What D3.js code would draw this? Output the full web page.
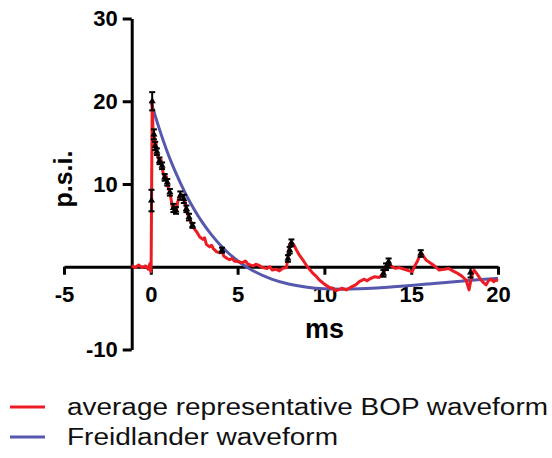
<!DOCTYPE html>
<html>
<head>
<meta charset="utf-8">
<script src="https://cdn.jsdelivr.net/npm/d3@7"></script>
<style>
  html, body { margin: 0; padding: 0; background: #fff; }
  svg { display: block; font-family: Arial, "Liberation Sans", sans-serif; }
</style>
</head>
<body>
<svg id="chart" width="552" height="458"></svg>
<script>
// ---------- data ----------
const xTicks = [-5, 0, 5, 10, 15, 20];
const yTicks = [-10, 10, 20, 30];
const xLabel = "ms";
const yLabel = "p.s.i.";
const seriesNames = ["average representative BOP waveform", "Freidlander waveform"];

// average representative BOP waveform (time ms, pressure psi)
const bopTime = [-1.1, -0.9, -0.7, -0.5, -0.3, -0.15, -0.05, 0.0, 0.02, 0.05, 0.08, 0.12, 0.16, 0.2, 0.25, 0.3, 0.35, 0.45, 0.52, 0.6, 0.7, 0.8, 0.9, 1.0, 1.09, 1.18, 1.26, 1.35, 1.45, 1.55, 1.65, 1.78, 1.9, 1.95, 2.05, 2.15, 2.24, 2.35, 2.5, 2.65, 2.82, 3.0, 3.1, 3.2, 3.39, 3.5, 3.6, 3.8, 3.97, 4.1, 4.2, 4.4, 4.54, 4.7, 4.8, 5.05, 5.29, 5.45, 5.6, 5.9, 6.05, 6.2, 6.44, 6.7, 6.85, 7.0, 7.2, 7.41, 7.6, 7.82, 7.9, 7.95, 8.0, 8.1, 8.25, 8.4, 8.56, 8.8, 9.02, 9.3, 9.5, 9.71, 10.0, 10.29, 10.5, 10.65, 10.8, 11.0, 11.26, 11.5, 11.8, 12.01, 12.3, 12.45, 12.59, 12.9, 13.16, 13.3, 13.45, 13.62, 13.75, 13.91, 14.1, 14.31, 14.6, 14.89, 15.06, 15.2, 15.34, 15.57, 15.7, 15.86, 16.0, 16.21, 16.4, 16.61, 16.9, 17.18, 17.4, 17.59, 17.9, 18.16, 18.33, 18.42, 18.51, 18.62, 18.8, 19.02, 19.15, 19.31, 19.45, 19.6, 19.75, 19.89, 20.0];
const bopValue = [0.1, -0.1, 0.2, -0.1, 0.1, -0.3, 0.4, -0.6, 0.2, 10, 20, 17, 15.5, 16, 14.5, 15, 13.8, 13, 12.6, 12.9, 11.4, 10.6, 10.9, 9.6, 9.0, 8.0, 7.0, 7.3, 6.6, 7.8, 8.6, 8.7, 8.2, 8.1, 6.8, 6.2, 5.7, 5.2, 4.6, 4.2, 3.6, 3.3, 3.5, 2.7, 2.4, 2.6, 2.2, 1.8, 1.7, 1.9, 1.3, 1.0, 0.85, 1.0, 0.7, 0.6, 0.5, 0.7, 0.3, 0.1, 0.3, 0.2, -0.1, -0.2, 0.0, -0.4, -0.3, -0.5, -0.2, -0.1, 1.2, 2.0, 2.7, 3.0, 2.6, 2.0, 1.4, 0.7, 0.0, -0.7, -1.1, -1.6, -2.1, -2.5, -2.6, -2.9, -2.8, -2.6, -2.8, -2.5, -2.2, -1.8, -1.5, -1.7, -1.5, -1.2, -1.3, -1.0, -0.6, 0.5, 0.3, 0.0, -0.2, -0.1, -0.3, -0.5, -0.6, 0.1, 0.6, 1.7, 1.3, 0.8, 0.6, 0.3, 0.0, -0.4, -0.3, -0.2, -0.5, -0.7, -1.1, -1.6, -2.8, -1.8, -1.0, -0.4, -0.9, -1.6, -1.9, -2.2, -1.7, -1.5, -1.8, -1.6, -1.7];

// Freidlander waveform (time ms, pressure psi)
const fwTime = [0, 0.5, 1, 1.5, 2, 2.5, 3, 3.5, 4, 4.5, 5, 5.5, 6, 7, 8, 9, 10, 11, 12, 13, 14, 15, 16, 17, 18, 19, 20];
const fwValue = [20, 16.6, 13.6, 11.07, 8.84, 6.93, 5.27, 3.85, 2.63, 1.6, 0.73, 0, -0.61, -1.53, -2.12, -2.48, -2.66, -2.71, -2.67, -2.57, -2.43, -2.26, -2.08, -1.9, -1.72, -1.55, -1.39];

// points carrying error bars on the BOP waveform (time, mean, error)
const errTime = [0.08, 0.04, 0.18, 0.25, 0.35, 0.5, 0.65, 0.8, 0.95, 1.1, 1.3, 1.45, 1.7, 1.9, 2.05, 2.2, 2.4, 4.1, 7.9, 8.0, 8.1, 13.4, 13.55, 13.7, 15.55, 18.42];
const errMean = [20.0, 8.0, 16.0, 14.6, 13.9, 12.8, 12.2, 10.8, 10.2, 9.0, 7.1, 6.8, 8.6, 8.2, 7.0, 6.0, 5.0, 2.0, 1.0, 2.0, 2.9, -0.8, 0.0, 0.6, 1.6, -0.7];
const errSize = [1.1, 1.3, 0.6, 0.5, 0.4, 0.4, 0.4, 0.4, 0.4, 0.4, 0.5, 0.4, 0.5, 0.5, 0.4, 0.4, 0.3, 0.3, 0.4, 0.4, 0.4, 0.4, 0.4, 0.4, 0.4, 0.6];

const yAxisAt = -1.1; // x value where the y axis is drawn

// ---------- drawing ----------
const red = "#ec1c24";
const blue = "#5558ad";
const svg = d3.select("#chart");

const x = d3.scaleLinear().domain([-5, 20]).range([64, 498]);
const y = d3.scaleLinear().domain([-10, 30]).range([349.5, 18.5]);
const fmt = d => String(d); // plain hyphen-minus like the original

// x axis at y = 0
const gx = svg.append("g")
  .attr("transform", `translate(0,${y(0)})`)
  .call(d3.axisBottom(x).tickValues(xTicks).tickSize(8).tickSizeOuter(0).tickPadding(12).tickFormat(fmt));
// y axis
const gy = svg.append("g")
  .attr("transform", `translate(${x(yAxisAt)},0)`)
  .call(d3.axisLeft(y).tickValues(yTicks).tickSize(9).tickSizeOuter(0).tickPadding(5).tickFormat(fmt));

[gx, gy].forEach(g => {
  g.select(".domain").attr("stroke", "#000").attr("stroke-width", 3);
  g.selectAll(".tick line").attr("stroke", "#000").attr("stroke-width", 3);
  g.selectAll(".tick text")
    .attr("fill", "#000")
    .style("font-family", "Arial, 'Liberation Sans', sans-serif")
    .style("font-weight", "bold")
    .style("font-size", "22px");
});
gx.selectAll(".tick text").attr("text-anchor", "middle");

// axis titles
svg.append("text")
  .attr("x", x(10)).attr("y", 338)
  .attr("text-anchor", "middle")
  .style("font-weight", "bold").style("font-size", "27px")
  .text(xLabel);
svg.append("text")
  .attr("transform", `translate(72,${y(10.6)}) rotate(-90)`)
  .attr("text-anchor", "middle")
  .style("font-weight", "bold").style("font-size", "25px")
  .text(yLabel);

// lines
const fwData = fwTime.map((t, i) => [t, fwValue[i]]);
const bopData = bopTime.map((t, i) => [t, bopValue[i]]);

svg.append("path").datum(fwData)
  .attr("d", d3.line().x(d => x(d[0])).y(d => y(d[1])).curve(d3.curveMonotoneX))
  .attr("fill", "none").attr("stroke", blue).attr("stroke-width", 3);

svg.append("path").datum(bopData)
  .attr("d", d3.line().x(d => x(d[0])).y(d => y(d[1])))
  .attr("fill", "none").attr("stroke", red).attr("stroke-width", 3)
  .attr("stroke-linejoin", "round");

// error bars + markers
const errData = errTime.map((t, i) => ({ t, m: errMean[i], e: errSize[i] }));
const eg = svg.append("g").attr("stroke", "#000").attr("stroke-width", 2);
errData.forEach(d => {
  const cx = x(d.t);
  eg.append("line").attr("x1", cx).attr("x2", cx).attr("y1", y(d.m - d.e)).attr("y2", y(d.m + d.e));
  eg.append("line").attr("x1", cx - 3).attr("x2", cx + 3).attr("y1", y(d.m + d.e)).attr("y2", y(d.m + d.e));
  eg.append("line").attr("x1", cx - 3).attr("x2", cx + 3).attr("y1", y(d.m - d.e)).attr("y2", y(d.m - d.e));
});
svg.append("g").selectAll("path").data(errData).join("path")
  .attr("d", d3.symbol(d3.symbolTriangle, 22))
  .attr("transform", d => `translate(${x(d.t)},${y(d.m)})`)
  .attr("fill", "#000");

// legend
const legend = svg.append("g");
const legColors = [red, blue];
const legWidths = [481, 271];
seriesNames.forEach((name, i) => {
  const ly = 407 + i * 30;
  legend.append("line").attr("x1", 10).attr("x2", 45).attr("y1", ly).attr("y2", ly)
    .attr("stroke", legColors[i]).attr("stroke-width", 3);
  legend.append("text").attr("x", 67).attr("y", ly + 8)
    .attr("textLength", legWidths[i]).attr("lengthAdjust", "spacingAndGlyphs")
    .style("font-size", "23px").attr("fill", "#111")
    .text(name);
});
</script>
</body>
</html>
